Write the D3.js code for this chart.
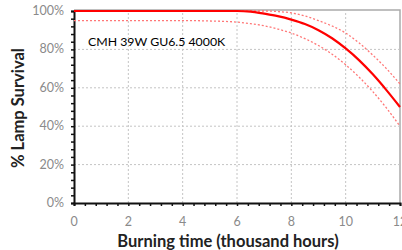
<!DOCTYPE html>
<html>
<head>
<meta charset="utf-8">
<script src="https://cdn.jsdelivr.net/npm/d3@7"></script>
<style>
  body { margin: 0; background: #fff; }
  text { font-family: Lato, "Open Sans", sans-serif; }
</style>
</head>
<body>
<div id="chart"></div>
<script>
// burning time, thousand hours
var hours = [0, 1, 2, 3, 4, 5, 6, 6.5, 7, 7.5, 8, 8.5, 9, 9.5, 10, 10.5, 11, 11.5, 12];
// median survival curve (solid)
var survival = [100, 100, 100, 100, 100, 100, 100, 99.7, 98.6, 97.3, 95.5, 93.2, 90, 85.8, 80.5, 74.3, 67, 58.8, 50];
// upper band (dotted)
var upperBand = [100, 100, 100, 100, 100, 100, 100, 100, 100, 99.7, 99, 97.4, 95, 92.2, 88.5, 83.3, 77, 70, 62];
// lower band (dotted)
var lowerBand = [95, 95, 95, 95, 95, 94.8, 94.2, 93.4, 92.3, 90.6, 88.5, 85.6, 82, 77.5, 72, 65.5, 58, 49.5, 40];

var xTicks = [0, 2, 4, 6, 8, 10, 12];
var yTicks = [0, 20, 40, 60, 80, 100];
var label = "CMH 39W GU6.5 4000K";

var width = 402, height = 250;
var marginLeft = 74, marginRight = 2, marginTop = 11, marginBottom = 47;

var svg = d3.select("#chart").append("svg")
    .attr("width", width)
    .attr("height", height);

var xScale = d3.scaleLinear().domain([0, 12]).range([marginLeft, width - marginRight]);
var yScale = d3.scaleLinear().domain([0, 100]).range([height - marginBottom, marginTop]);

// frame (top and right)
svg.append("path")
    .attr("d", `M${xScale(0)},${yScale(100) - 1}H${xScale(12)}V${yScale(0)}`)
    .attr("fill", "none")
    .attr("stroke", "#aaa")
    .attr("stroke-width", 1.5);

// grid
svg.append("g").selectAll("line")
  .data(xTicks.slice(1, -1))
  .enter().append("line")
    .attr("x1", d => xScale(d)).attr("x2", d => xScale(d))
    .attr("y1", yScale(0)).attr("y2", yScale(100))
    .attr("stroke", "#c4c4c4")
    .attr("stroke-dasharray", "2,2");

svg.append("g").selectAll("line")
  .data(yTicks.slice(1, -1))
  .enter().append("line")
    .attr("x1", xScale(0)).attr("x2", xScale(12))
    .attr("y1", d => yScale(d)).attr("y2", d => yScale(d))
    .attr("stroke", "#c4c4c4")
    .attr("stroke-dasharray", "2,2");

// minor ticks
var xAxis = d3.axisBottom(xScale).tickValues(d3.range(0, 12.01, 0.4)).tickSize(3).tickFormat("");
var yAxis = d3.axisLeft(yScale).tickValues(d3.range(0, 100.01, 4)).tickSize(3).tickFormat("");

svg.append("g")
    .attr("transform", `translate(0,${yScale(0)})`)
    .call(xAxis)
    .call(g => g.select(".domain").attr("stroke-width", 2).attr("stroke", "#111"))
    .call(g => g.selectAll(".tick line").attr("stroke", "#111").attr("stroke-width", 1.5));

svg.append("g")
    .attr("transform", `translate(${xScale(0)},0)`)
    .call(yAxis)
    .call(g => g.select(".domain").attr("stroke-width", 2).attr("stroke", "#111"))
    .call(g => g.selectAll(".tick line").attr("stroke", "#111").attr("stroke-width", 1.5));

// major tick labels
svg.append("g").selectAll("text")
  .data(xTicks)
  .enter().append("text")
    .attr("x", d => xScale(d))
    .attr("y", yScale(0) + 23)
    .attr("text-anchor", "middle")
    .attr("fill", "#8a8a8a")
    .style("font-size", "12.5px")
    .text(d => d);

svg.append("g").selectAll("text")
  .data(yTicks)
  .enter().append("text")
    .attr("x", xScale(0) - 10)
    .attr("y", d => yScale(d) + 4)
    .attr("text-anchor", "end")
    .attr("fill", "#8a8a8a")
    .style("font-size", "12.5px")
    .text(d => d + "%");

// curves
var line = d3.line()
    .curve(d3.curveMonotoneX)
    .x((d, i) => xScale(hours[i]))
    .y(d => yScale(d));

[upperBand, lowerBand].forEach(function(s) {
  svg.append("path")
      .attr("d", line(s))
      .attr("fill", "none")
      .attr("stroke", "#f77")
      .attr("stroke-width", 1.3)
      .attr("stroke-dasharray", "2,2");
});

svg.append("path")
    .attr("d", line(survival))
    .attr("fill", "none")
    .attr("stroke", "#f00")
    .attr("stroke-width", 2.2);

// annotation
svg.append("text")
    .attr("x", 88)
    .attr("y", 46)
    .attr("fill", "#000")
    .style("font-size", "12.3px")
    .text(label);

// axis titles
svg.append("text")
    .attr("x", 228)
    .attr("y", 247)
    .attr("text-anchor", "middle")
    .attr("fill", "#222")
    .style("font-size", "16.5px")
    .style("font-weight", "bold")
    .text("Burning time (thousand hours)");

svg.append("text")
    .attr("transform", "translate(24,108) rotate(-90)")
    .attr("text-anchor", "middle")
    .attr("fill", "#222")
    .style("font-size", "16.5px")
    .style("font-weight", "bold")
    .text("% Lamp Survival");
</script>
</body>
</html>
